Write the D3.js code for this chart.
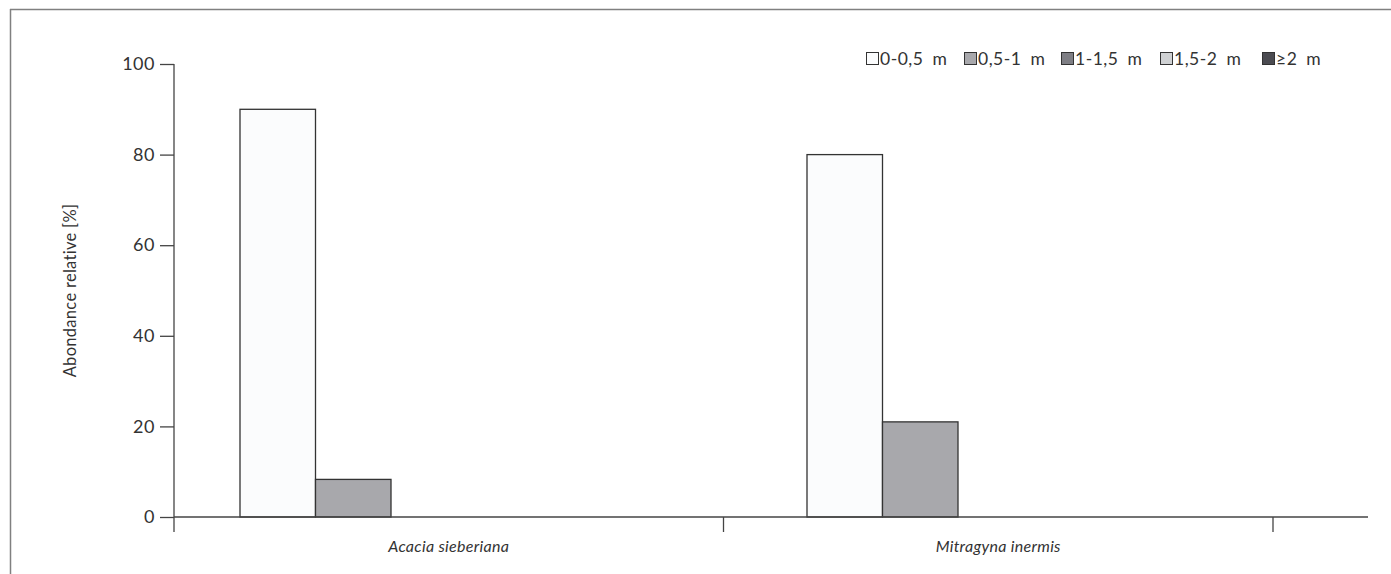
<!DOCTYPE html>
<html>
<head>
<meta charset="utf-8">
<script src="https://cdn.jsdelivr.net/npm/d3@7"></script>
<style>
  html, body { margin: 0; padding: 0; background: #fff; }
  svg { display: block; }
  text { font-family: "Lato", "Open Sans", sans-serif; fill: #333; }
</style>
</head>
<body>
<svg id="chart" width="1391" height="574"></svg>
<script>
const categories = ["Acacia sieberiana", "Mitragyna inermis"];
const seriesNames = ["0-0,5 m", "0,5-1 m", "1-1,5 m", "1,5-2 m", "\u22652 m"];
const seriesColors = ["#fbfcfd", "#a8a8ac", "#7e7e84", "#cfd1d3", "#4b4b51"];
const values0to05 = [90, 80];
const values05to1 = [8.3, 21];
const values1to15 = [0, 0];
const values15to2 = [0, 0];
const values2plus = [0, 0];
const yTicks = [0, 20, 40, 60, 80, 100];
const yTitle = "Abondance relative [%]";

const seriesValues = [values0to05, values05to1, values1to15, values15to2, values2plus];
const data = categories.map((c, i) => ({
  cat: c,
  vals: seriesNames.map((s, j) => ({ s, j, v: seriesValues[j][i] }))
}));

const svg = d3.select("#chart");
const axisColor = "#444";

// frame
svg.append("line").attr("x1", 10).attr("x2", 1391).attr("y1", 9.5).attr("y2", 9.5)
  .attr("stroke", "#808080").attr("stroke-width", 1.5);
svg.append("line").attr("x1", 10.5).attr("x2", 10.5).attr("y1", 9).attr("y2", 574)
  .attr("stroke", "#808080").attr("stroke-width", 1.5);

const x0 = 174, xEnd = 1273, axisRight = 1368;
const yTop = 64, yBottom = 517;

// axis bands (ticks & labels)
const x = d3.scaleBand().domain(categories).range([x0, xEnd]).padding(0);
// bar groups
const xBars = d3.scaleBand().domain(categories).range([240, 1374]).padding(0);
const xs = d3.scaleBand().domain(d3.range(seriesNames.length))
  .range([0, 5 * 75.5]).padding(0);
const y = d3.scaleLinear().domain([0, 100]).range([yBottom, yTop]);

// bars
const g = svg.append("g");
g.selectAll("g.cat").data(data).join("g")
  .attr("transform", d => `translate(${xBars(d.cat)},0)`)
  .selectAll("rect").data(d => d.vals.filter(v => v.v > 0)).join("rect")
  .attr("x", d => xs(d.j))
  .attr("width", xs.bandwidth())
  .attr("y", d => y(d.v))
  .attr("height", d => y(0) - y(d.v))
  .attr("fill", d => seriesColors[d.j])
  .attr("stroke", "#333")
  .attr("stroke-width", 1.3);

// y axis
const yAxis = d3.axisLeft(y).tickValues(yTicks).tickSize(14).tickPadding(5);
const ya = svg.append("g").attr("transform", `translate(${x0},0)`).call(yAxis);
ya.select(".domain").remove();
ya.append("line").attr("x1", 0).attr("x2", 0).attr("y1", yTop).attr("y2", yBottom + 15)
  .attr("stroke", axisColor).attr("stroke-width", 1.3);
ya.selectAll(".tick line").attr("stroke", axisColor).attr("stroke-width", 1.3);
ya.selectAll(".tick text").style("font-size", "18px").attr("fill", "#333")
  .style("font-family", "Lato, 'Open Sans', sans-serif")
  .style("letter-spacing", "0.5px");

// x axis
const xa = svg.append("g").attr("transform", `translate(0,${yBottom})`);
xa.append("line").attr("x1", x0).attr("x2", axisRight).attr("y1", 0).attr("y2", 0)
  .attr("stroke", axisColor).attr("stroke-width", 1.3);
xa.selectAll("line.tk").data(categories).join("line").attr("class", "tk")
  .attr("x1", d => x(d) + x.bandwidth()).attr("x2", d => x(d) + x.bandwidth())
  .attr("y1", 0).attr("y2", 15)
  .attr("stroke", axisColor).attr("stroke-width", 1.3);
xa.selectAll("text.cl").data(categories).join("text").attr("class", "cl")
  .attr("x", d => x(d) + x.bandwidth() / 2)
  .attr("y", 35)
  .attr("text-anchor", "middle")
  .style("font-size", "16px").style("font-style", "italic")
  .style("letter-spacing", "0.3px")
  .text(d => d);

// y title
svg.append("text")
  .attr("transform", `translate(76,${(yTop + yBottom) / 2}) rotate(-90)`)
  .attr("text-anchor", "middle")
  .style("font-size", "16.5px")
  .style("letter-spacing", "0.3px")
  .text(yTitle);

// legend
const legendX = [866, 964, 1061, 1160, 1262];
const lg = svg.append("g").attr("transform", "translate(0,59)");
const items = lg.selectAll("g").data(seriesNames).join("g")
  .attr("transform", (d, i) => `translate(${legendX[i]},0)`);
items.append("rect").attr("x", 0.5).attr("y", -6.5).attr("width", 12).attr("height", 12)
  .attr("fill", (d, i) => seriesColors[i]).attr("stroke", "#333").attr("stroke-width", 1);
items.append("text").attr("x", 14).attr("y", 0).attr("dy", "0.36em")
  .style("font-size", "17.5px")
  .style("letter-spacing", "0.5px")
  .style("word-spacing", "4px")
  .text(d => d);
</script>
</body>
</html>
